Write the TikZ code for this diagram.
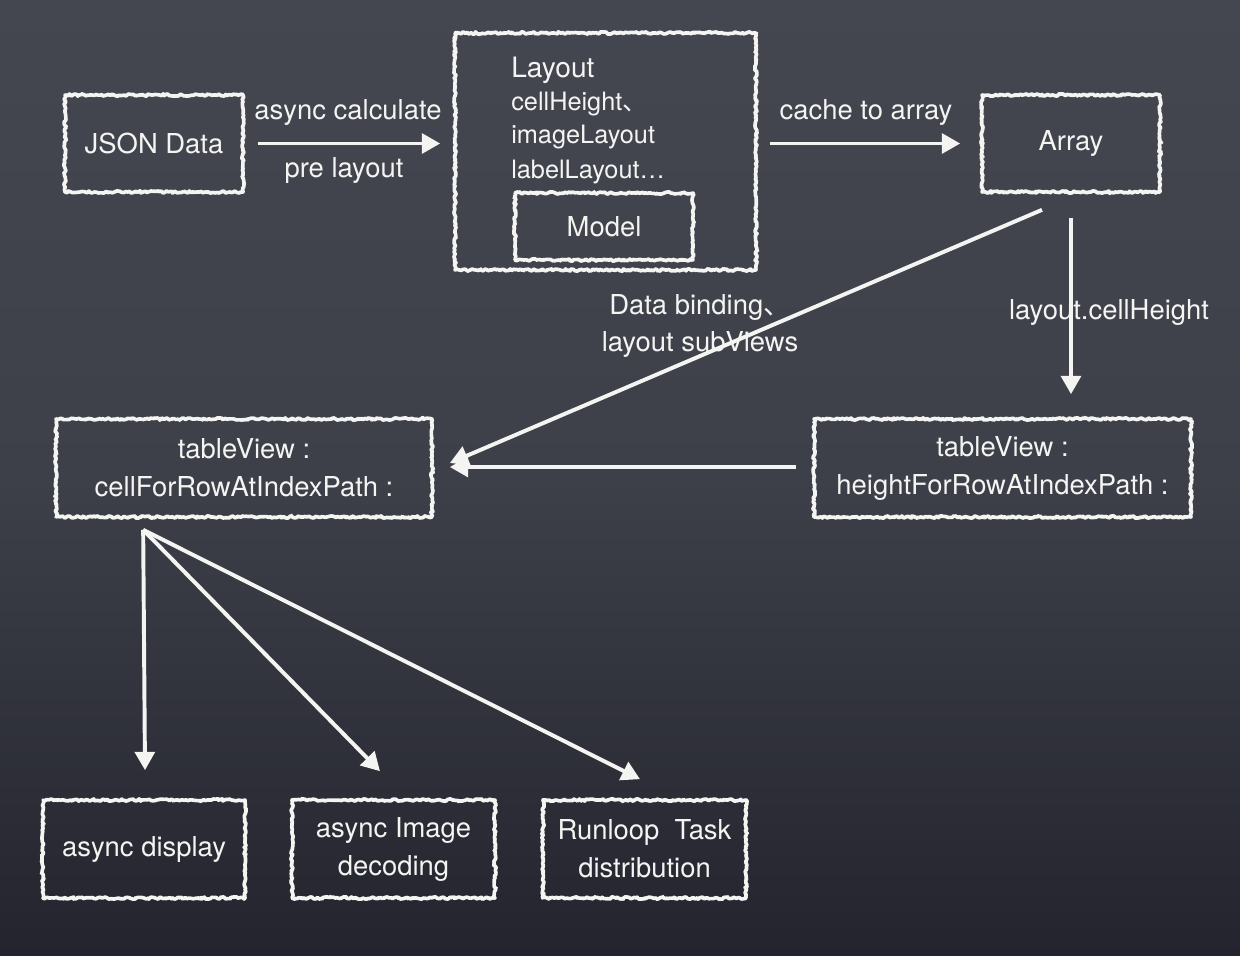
\documentclass[tikz,border=0pt]{standalone}
\usepackage{fontspec}
\setmainfont{TeX Gyre Heros}
\newfontfamily\cjk{Noto Sans CJK SC}
\usetikzlibrary{arrows.meta,decorations.pathmorphing,calc}
\definecolor{bgtop}{HTML}{44474F}
\definecolor{bgmid}{HTML}{3E4049}
\definecolor{bgbot}{HTML}{23242D}
\definecolor{chalk}{HTML}{F4F4F2}
\begin{document}
\begin{tikzpicture}[x=0.025cm,y=-0.025cm,
 chalkbox/.style n args={2}{draw=chalk, line width=2.6pt, line join=round,
   minimum width=#1*0.025cm, minimum height=#2*0.025cm, inner sep=0pt,
   decorate, decoration={random steps, segment length=1.4pt, amplitude=0.8pt},
   postaction={draw=chalk, line width=1.1pt, line join=round, decorate,
     decoration={random steps, segment length=1.2pt, amplitude=1.3pt}},
   text=chalk, font=\fontsize{19.5}{27}\selectfont, align=center},
 lbl/.style={text=chalk, font=\fontsize{19.5}{27}\selectfont, align=center, inner sep=0pt},
 inner/.style={text=chalk, inner sep=0pt, anchor=base west, font=\fontsize{18}{22}\selectfont},
 arr/.style={draw=chalk, line width=2.8pt, -{Triangle[length=13pt,width=14pt]}},
]
\fill[top color=bgtop, bottom color=bgbot, middle color=bgmid] (0,0) rectangle (1240,955);
\useasboundingbox (0,0) rectangle (1240,955);

\node[chalkbox={178}{97}] (json) at (154,143.5) {JSON Data};
\node[chalkbox={301}{237}] (layout) at (605.5,151.5) {};
\node[chalkbox={178}{67}] (model) at (604,226.5) {Model};
\node[chalkbox={178}{97}] (array) at (1071,143.5) {Array};
\node[chalkbox={377}{98}] (hfr) at (1002.5,468) {tableView :\\heightForRowAtIndexPath :};
\node[chalkbox={376}{98}] (cfr) at (244,468) {tableView :\\cellForRowAtIndexPath :};
\node[chalkbox={202}{98}] (disp) at (144,849) {async display};
\node[chalkbox={203}{98}] (dec) at (393.5,849) {async Image\\decoding};
\node[chalkbox={203}{98}] (run) at (644.5,849) {Runloop\ \ Task\\distribution};

\node[inner, font=\fontsize{20}{24}\selectfont] (t1) at (511,77) {Layout};
\node[inner] (t2) at (511,110) {cellHeight{\cjk 、}};
\node[inner] (t3) at (511,143) {imageLayout};
\node[inner] (t4) at (511,178) {labelLayout\ldots};

\node[lbl] (l1) at (348,112) {async calculate};
\node[lbl] (l2) at (344,170) {pre layout};
\node[lbl] (l3) at (866,112) {cache to array};
\node[lbl] (l4) at (1109,312) {layout.cellHeight};
\node[lbl] (l5) at (700,326) {Data binding{\cjk 、}\\layout subViews};

\draw[arr] ($(json.east)+(13,0)$) -- ($(layout.west |- json.east)+(-13,0)$);
\draw[arr] ($(layout.east |- array.west)+(12,0)$) -- ($(array.west)+(-20,0)$);
\draw[arr] ($(array.south)+(0,24)$) -- ($(hfr.north -| array.south)+(0,-23)$);
\draw[arr] ($(array.south)+(-29,16)$) -- ($(cfr.east)+(16,-5)$);
\draw[arr] ($(hfr.west)+(-16,-1)$) -- ($(cfr.east)+(16,-1)$);
\coordinate (fan) at ($(cfr.south west)+(89,11)$);
\draw[arr] (fan) -- ($(disp.north)+(1,-28)$);
\draw[arr] (fan) -- ($(dec.north)+(-13.5,-27)$);
\draw[arr] (fan) -- ($(run.north)+(-4.5,-19)$);
\end{tikzpicture}
\end{document}
